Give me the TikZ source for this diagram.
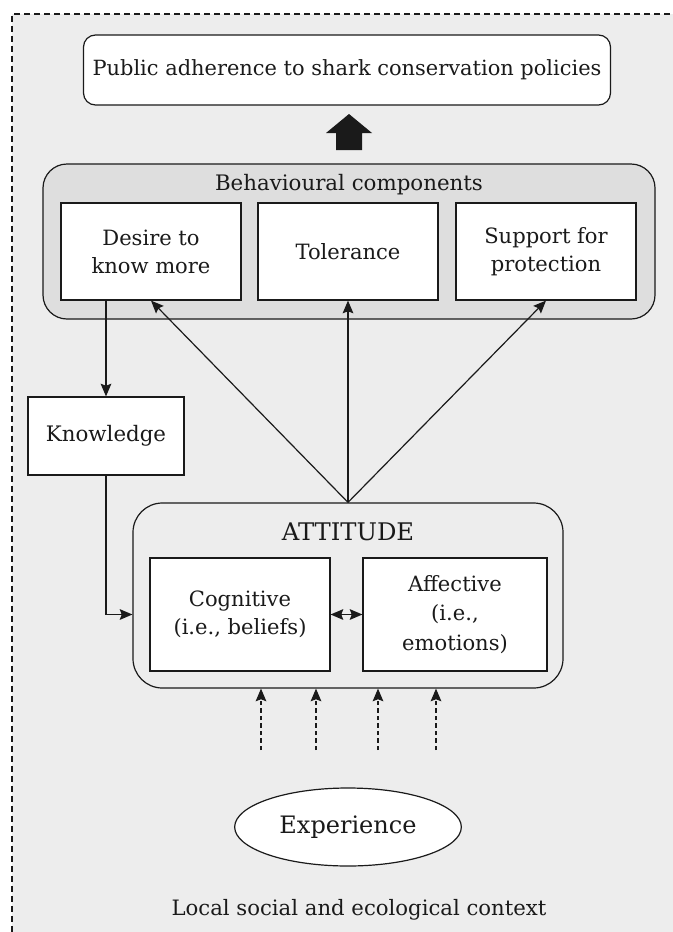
\documentclass[tikz,border=0pt]{standalone}
\usepackage{fontspec}
\setmainfont{DejaVu Serif}
\usetikzlibrary{arrows.meta,shapes.geometric}
\definecolor{bggray}{HTML}{EDEDED}
\definecolor{boxgray}{HTML}{DEDEDE}
\definecolor{ink}{HTML}{1A1A1A}
\tikzset{
  every node/.style={text=ink},
  plainbox/.style={draw=ink, fill=white, line width=0.9pt, align=center, inner sep=2pt,
    font=\fontsize{15.8}{21}\selectfont},
  roundbox/.style={draw=ink, line width=0.9pt, rounded corners=#1},
  tip/.style={},
  conn/.style={draw=ink, line width=0.9pt, -{Stealth[length=9.5pt,width=8pt,inset=1.5pt]}},
  dconn/.style={conn, dash pattern=on 3.2pt off 2.4pt},
}
\begin{document}
\begin{tikzpicture}[x=0.75pt,y=-0.75pt]
\useasboundingbox (0,0) rectangle (673,932);
% background context
\fill[bggray] (12,14) rectangle (673,932);
\draw[ink, line width=0.8pt, dash pattern=on 4.5pt off 3pt] (12,932) -- (12,14) -- (673,14);

% top outcome
\node[roundbox=9pt, fill=white, minimum width=395.25pt, minimum height=52.5pt,
  font=\fontsize{15.7}{18}\selectfont] (pub) at (347,70) {Public adherence to shark conservation policies};

% block arrow
\fill[ink] (336,150) -- (362,150) -- (362,133) -- (372,133) -- (349,114) -- (326,133) -- (336,133) -- cycle;

% behavioural components
\node[roundbox=18pt, fill=boxgray, minimum width=459pt, minimum height=116.25pt] (beh) at (349,241.5) {};
\node[font=\fontsize{16}{18}\selectfont] (behlab) at (349,185) {Behavioural components};
\node[plainbox, minimum width=135pt, minimum height=72.75pt] (des) at (151,251.5) {Desire to\\know more};
\node[plainbox, minimum width=135pt, minimum height=72.75pt] (tol) at (348,251.5) {Tolerance};
\node[plainbox, minimum width=135pt, minimum height=72.75pt] (sup) at (546,251.5) {Support for\\protection};

% knowledge
\node[plainbox, minimum width=117pt, minimum height=58.5pt, font=\fontsize{16}{20}\selectfont] (kno) at (106,436) {Knowledge};

% attitude
\node[roundbox=22pt, fill=bggray, minimum width=322.5pt, minimum height=138.75pt] (att) at (348,595.5) {};
\node[font=\fontsize{18.2}{20}\selectfont] (attlab) at (348,532) {ATTITUDE};
\node[plainbox, minimum width=135pt, minimum height=84.75pt] (cog) at (240,614.5) {Cognitive\\(i.e., beliefs)};
\node[plainbox, minimum width=138pt, minimum height=84.75pt, font=\fontsize{15.8}{22}\selectfont] (aff) at (455,614.5) {Affective\\(i.e.,\\emotions)};

% experience
\node[draw=ink, fill=white, line width=0.9pt, ellipse, minimum width=170pt, minimum height=58.5pt,
  font=\fontsize{18}{20}\selectfont] (exp) at (348,827) {Experience};

% context label
\node[font=\fontsize{15.9}{18}\selectfont] (ctx) at (359,910) {Local social and ecological context};

% connectors
\draw[conn] (att.north) -- (des.south);
\draw[conn] (att.north) -- (tol.south);
\draw[conn] (att.north) -- (sup.south);
\draw[conn] (kno.north |- des.south) -- (kno.north);
\draw[conn] (kno.south) |- (att.west |- cog.west);
\draw[conn, {Stealth[length=9.5pt,width=8pt,inset=1.5pt]}-{Stealth[length=9.5pt,width=8pt,inset=1.5pt]}] (cog.east) -- (aff.west);

\coordinate (d1) at (261,750);
\coordinate (d2) at (316,750);
\coordinate (d3) at (378,750);
\coordinate (d4) at (436,750);
\foreach \d in {d1,d2,d3,d4}
  \draw[dconn] (\d) -- (\d |- att.south);
\end{tikzpicture}
\end{document}
